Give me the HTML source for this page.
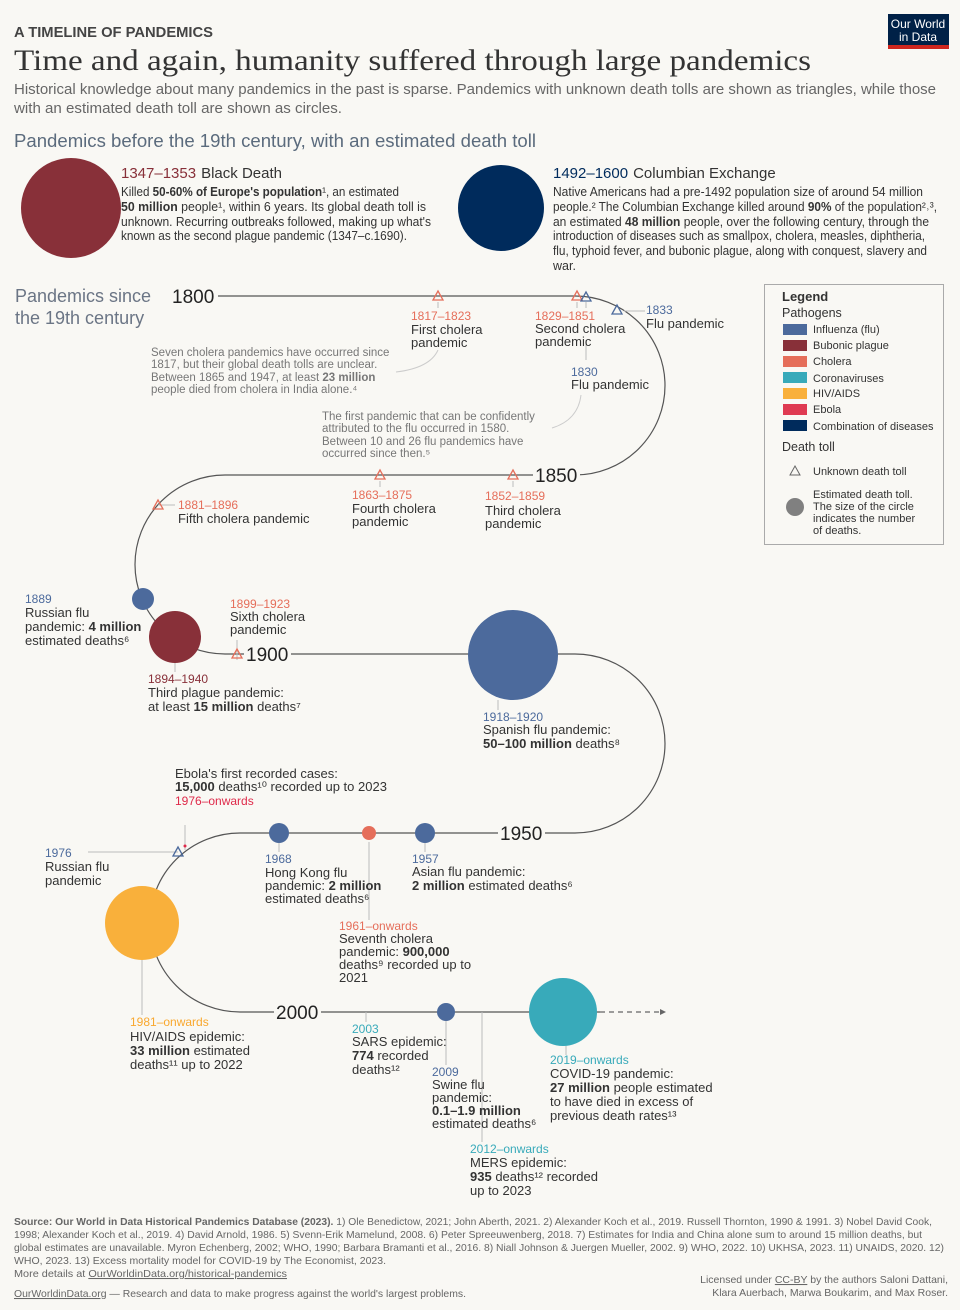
<!DOCTYPE html>
<html><head><meta charset="utf-8"><style>
body{margin:0;background:#f9f8f4}
svg{display:block}
text{font-family:"Liberation Sans",sans-serif}
.g{fill:#5b5b5b}.d{fill:#333}.b{font-weight:bold}
.fl{fill:#4c6a9c}.ch{fill:#e56e5a}.pl{fill:#883039}.co{fill:#38aaba}.hv{fill:#f9a82f}.eb{fill:#df2a4a}.cm{fill:#002b5c}
</style></head><body>
<svg width="960" height="1310" viewBox="0 0 960 1310" xmlns="http://www.w3.org/2000/svg">
<rect width="960" height="1310" fill="#f9f8f4"/>
<!-- header -->
<text x="14" y="37" font-size="15" font-weight="bold" fill="#444" textLength="199" lengthAdjust="spacingAndGlyphs">A TIMELINE OF PANDEMICS</text>
<text x="14" y="70" font-size="30" fill="#333" style="font-family:'Liberation Serif',serif" textLength="797" lengthAdjust="spacingAndGlyphs">Time and again, humanity suffered through large pandemics</text>
<text x="14" y="94" font-size="15" fill="#666" textLength="922" lengthAdjust="spacingAndGlyphs">Historical knowledge about many pandemics in the past is sparse. Pandemics with unknown death tolls are shown as triangles, while those</text>
<text x="14" y="113" font-size="15" fill="#666" textLength="328" lengthAdjust="spacingAndGlyphs">with an estimated death toll are shown as circles.</text>
<rect x="888" y="14" width="61" height="35" fill="#002147"/><rect x="888" y="45" width="61" height="4" fill="#ce261e"/>
<text x="918" y="28" font-size="12" fill="#fff" text-anchor="middle">Our World</text>
<text x="918" y="41" font-size="12" fill="#fff" text-anchor="middle">in Data</text>
<text x="14" y="147" font-size="18" fill="#5b6b7d" textLength="522" lengthAdjust="spacingAndGlyphs">Pandemics before the 19th century, with an estimated death toll</text>
<!-- black death -->
<circle cx="71" cy="208" r="50" fill="#883039"/>
<text x="121" y="178" font-size="15"><tspan class="pl">1347–1353</tspan><tspan class="d" dx="5">Black Death</tspan></text>
<g font-size="12.5" class="d">
<text x="121" y="196" textLength="278" lengthAdjust="spacingAndGlyphs">Killed <tspan class="b">50-60% of Europe's population</tspan>¹, an estimated</text>
<text x="121" y="211" textLength="305" lengthAdjust="spacingAndGlyphs"><tspan class="b">50 million</tspan> people¹, within 6 years. Its global death toll is</text>
<text x="121" y="226" textLength="310" lengthAdjust="spacingAndGlyphs">unknown. Recurring outbreaks followed, making up what's</text>
<text x="121" y="240" textLength="286" lengthAdjust="spacingAndGlyphs">known as the second plague pandemic (1347–c.1690).</text>
</g>
<circle cx="501" cy="208" r="43" fill="#002b5c"/>
<text x="553" y="178" font-size="15"><tspan class="cm">1492–1600</tspan><tspan class="d" dx="5">Columbian Exchange</tspan></text>
<g font-size="12.5" class="d">
<text x="553" y="196" textLength="370" lengthAdjust="spacingAndGlyphs">Native Americans had a pre-1492 population size of around 54 million</text>
<text x="553" y="211" textLength="384" lengthAdjust="spacingAndGlyphs">people.² The Columbian Exchange killed around <tspan class="b">90%</tspan> of the population²˒³,</text>
<text x="553" y="226" textLength="376" lengthAdjust="spacingAndGlyphs">an estimated <tspan class="b">48 million</tspan> people, over the following century, through the</text>
<text x="553" y="240" textLength="372" lengthAdjust="spacingAndGlyphs">introduction of diseases such as smallpox, cholera, measles, diphtheria,</text>
<text x="553" y="255" textLength="374" lengthAdjust="spacingAndGlyphs">flu, typhoid fever, and bubonic plague, along with conquest, slavery and</text>
<text x="553" y="270">war.</text>
</g>
<!-- timeline path -->
<path d="M218 296 H575 A90 89.5 0 0 1 575 475 H225 A90 89.5 0 0 0 225 654 H575 A90 89.5 0 0 1 575 833 H240 A90 89.5 0 0 0 240 1012 H600" fill="none" stroke="#555" stroke-width="1.2"/>
<path d="M600 1012 H660" stroke="#666" stroke-width="1.2" stroke-dasharray="5 4"/>
<path d="M660 1009 L666 1012 L660 1015Z" fill="#666"/>
<text x="15" y="302" font-size="18" fill="#6b7585">Pandemics since</text>
<text x="15" y="324" font-size="18" fill="#6b7585">the 19th century</text>
<!-- year labels -->
<g font-size="19" fill="#222">
<text x="172" y="303">1800</text>
<rect x="533" y="464" width="47" height="22" fill="#f9f8f4"/><text x="535" y="482">1850</text>
<rect x="244" y="643" width="47" height="22" fill="#f9f8f4"/><text x="246" y="661">1900</text>
<rect x="498" y="822" width="47" height="22" fill="#f9f8f4"/><text x="500" y="840">1950</text>
<rect x="274" y="1001" width="47" height="22" fill="#f9f8f4"/><text x="276" y="1019">2000</text>
</g>
<!-- connectors -->
<g stroke="#bbb" stroke-width="1" fill="none">
<path d="M438 302V308M577 302V308M586 302V308M624 311H645M158 505H175"/>
<path d="M586 340V360M380 481V487M513 481V487"/>
<path d="M143 610V598M175 662V672M237 660V640"/>
<path d="M498 700V710M279 842V852M369 842V920M425 842V852M185 825V850M178 852H88M142 955V1015M366 1012V1022M446 1020V1065M482 1012V1142M566 1046V1055"/>
<path d="M438 350 Q430 368 396 372M581 395 Q578 420 552 428" stroke="#ccc"/>
</g>
<!-- triangles -->
<g fill="none" stroke-width="1.3">
<path d="M438 291 L443 300 L433 300Z" stroke="#e56e5a"/>
<path d="M577 291 L582 300 L572 300Z" stroke="#e56e5a"/>
<path d="M586 292 L591 301 L581 301Z" stroke="#4c6a9c"/>
<path d="M617 305 L622 314 L612 314Z" stroke="#4c6a9c"/>
<path d="M380 470 L385 479 L375 479Z" stroke="#e56e5a"/>
<path d="M513 470 L518 479 L508 479Z" stroke="#e56e5a"/>
<path d="M158 500 L163 509 L153 509Z" stroke="#e56e5a"/>
<path d="M237 649 L242 658 L232 658Z" stroke="#e56e5a"/>
<path d="M178 847 L183 856 L173 856Z" stroke="#4c6a9c"/>
</g>
<!-- circles -->
<circle cx="143" cy="599" r="11" fill="#4c6a9c"/>
<circle cx="175" cy="637" r="26" fill="#883039"/>
<circle cx="513" cy="655" r="45" fill="#4c6a9c"/>
<circle cx="279" cy="833" r="10" fill="#4c6a9c"/>
<circle cx="369" cy="833" r="7" fill="#e56e5a"/>
<circle cx="425" cy="833" r="10" fill="#4c6a9c"/>
<circle cx="185" cy="846" r="1.5" fill="#df2a4a"/>
<circle cx="142" cy="923" r="37" fill="#f9b03b"/>
<circle cx="446" cy="1012" r="9" fill="#4c6a9c"/>
<circle cx="563" cy="1012" r="34" fill="#38aaba"/>
<!-- labels -->
<g font-size="13" class="d">
<text x="411" y="320" class="ch" font-size="12">1817–1823</text>
<text x="411" y="334">First cholera</text><text x="411" y="347">pandemic</text>
<text x="535" y="320" class="ch" font-size="12">1829–1851</text>
<text x="535" y="333">Second cholera</text><text x="535" y="346">pandemic</text>
<text x="646" y="314" class="fl" font-size="12">1833</text>
<text x="646" y="328">Flu pandemic</text>
<text x="571" y="376" class="fl" font-size="12">1830</text>
<text x="571" y="389">Flu pandemic</text>
<g font-size="11.5" fill="#777">
<text x="151" y="356">Seven cholera pandemics have occurred since</text>
<text x="151" y="368">1817, but their global death tolls are unclear.</text>
<text x="151" y="381">Between 1865 and 1947, at least <tspan font-weight="bold">23 million</tspan></text>
<text x="151" y="393">people died from cholera in India alone.⁴</text>
<text x="322" y="420">The first pandemic that can be confidently</text>
<text x="322" y="432">attributed to the flu occurred in 1580.</text>
<text x="322" y="445">Between 10 and 26 flu pandemics have</text>
<text x="322" y="457">occurred since then.⁵</text>
</g>
<text x="352" y="499" class="ch" font-size="12">1863–1875</text>
<text x="352" y="513">Fourth cholera</text><text x="352" y="526">pandemic</text>
<text x="485" y="500" class="ch" font-size="12">1852–1859</text>
<text x="485" y="515">Third cholera</text><text x="485" y="528">pandemic</text>
<text x="178" y="509" class="ch" font-size="12">1881–1896</text>
<text x="178" y="523">Fifth cholera pandemic</text>
<text x="25" y="603" class="fl" font-size="12">1889</text>
<text x="25" y="617">Russian flu</text>
<text x="25" y="631">pandemic: <tspan class="b">4 million</tspan></text>
<text x="25" y="645">estimated deaths⁶</text>
<text x="230" y="608" class="ch" font-size="12">1899–1923</text>
<text x="230" y="621">Sixth cholera</text><text x="230" y="634">pandemic</text>
<text x="148" y="683" class="pl" font-size="12">1894–1940</text>
<text x="148" y="697">Third plague pandemic:</text>
<text x="148" y="711">at least <tspan class="b">15 million</tspan> deaths⁷</text>
<text x="483" y="721" class="fl" font-size="12">1918–1920</text>
<text x="483" y="734">Spanish flu pandemic:</text>
<text x="483" y="748"><tspan class="b">50–100 million</tspan> deaths⁸</text>
<text x="175" y="778">Ebola's first recorded cases:</text>
<text x="175" y="791"><tspan class="b">15,000</tspan> deaths¹⁰ recorded up to 2023</text>
<text x="175" y="805" class="eb" font-size="12">1976–onwards</text>
<text x="45" y="857" class="fl" font-size="12">1976</text>
<text x="45" y="871">Russian flu</text><text x="45" y="885">pandemic</text>
<text x="265" y="863" class="fl" font-size="12">1968</text>
<text x="265" y="877">Hong Kong flu</text>
<text x="265" y="890">pandemic: <tspan class="b">2 million</tspan></text>
<text x="265" y="903">estimated deaths⁶</text>
<text x="412" y="863" class="fl" font-size="12">1957</text>
<text x="412" y="876">Asian flu pandemic:</text>
<text x="412" y="890"><tspan class="b">2 million</tspan> estimated deaths⁶</text>
<text x="339" y="930" class="ch" font-size="12">1961–onwards</text>
<text x="339" y="943">Seventh cholera</text>
<text x="339" y="956">pandemic: <tspan class="b">900,000</tspan></text>
<text x="339" y="969">deaths⁹ recorded up to</text>
<text x="339" y="982">2021</text>
<text x="130" y="1026" class="hv" font-size="12">1981–onwards</text>
<text x="130" y="1041">HIV/AIDS epidemic:</text>
<text x="130" y="1055"><tspan class="b">33 million</tspan> estimated</text>
<text x="130" y="1069">deaths¹¹ up to 2022</text>
<text x="352" y="1033" class="co" font-size="12">2003</text>
<text x="352" y="1046">SARS epidemic:</text>
<text x="352" y="1060"><tspan class="b">774</tspan> recorded</text>
<text x="352" y="1074">deaths¹²</text>
<text x="432" y="1076" class="fl" font-size="12">2009</text>
<text x="432" y="1089">Swine flu</text>
<text x="432" y="1102">pandemic:</text>
<text x="432" y="1115" class="b">0.1–1.9 million</text>
<text x="432" y="1128">estimated deaths⁶</text>
<text x="550" y="1064" class="co" font-size="12">2019–onwards</text>
<text x="550" y="1078">COVID-19 pandemic:</text>
<text x="550" y="1092"><tspan class="b">27 million</tspan> people estimated</text>
<text x="550" y="1106">to have died in excess of</text>
<text x="550" y="1120">previous death rates¹³</text>
<text x="470" y="1153" class="co" font-size="12">2012–onwards</text>
<text x="470" y="1167">MERS epidemic:</text>
<text x="470" y="1181"><tspan class="b">935</tspan> deaths¹² recorded</text>
<text x="470" y="1195">up to 2023</text>
</g>
<!-- legend -->
<rect x="764.5" y="284.5" width="179" height="260" fill="#f9f8f4" stroke="#aaa"/>
<g font-size="11" fill="#333">
<text x="782" y="301" font-size="13" font-weight="bold">Legend</text>
<text x="782" y="317" font-size="12.5">Pathogens</text>
<rect x="783" y="324" width="24" height="11" fill="#4c6a9c"/><text x="813" y="333">Influenza (flu)</text>
<rect x="783" y="340" width="24" height="11" fill="#883039"/><text x="813" y="349">Bubonic plague</text>
<rect x="783" y="356" width="24" height="11" fill="#e56e5a"/><text x="813" y="365">Cholera</text>
<rect x="783" y="372" width="24" height="11" fill="#38aaba"/><text x="813" y="382">Coronaviruses</text>
<rect x="783" y="388" width="24" height="11" fill="#f9b03b"/><text x="813" y="397">HIV/AIDS</text>
<rect x="783" y="404" width="24" height="11" fill="#df3a52"/><text x="813" y="413">Ebola</text>
<rect x="783" y="420" width="24" height="11" fill="#002b5c"/><text x="813" y="430">Combination of diseases</text>
<text x="782" y="451" font-size="12.5">Death toll</text>
<path d="M795 466 L800 475 L790 475Z" fill="none" stroke="#666"/>
<text x="813" y="475">Unknown death toll</text>
<circle cx="795" cy="507" r="9" fill="#808080"/>
<text x="813" y="498">Estimated death toll.</text>
<text x="813" y="510">The size of the circle</text>
<text x="813" y="522">indicates the number</text>
<text x="813" y="534">of deaths.</text>
</g>
<!-- footer -->
<g font-size="10.5" fill="#666">
<text x="14" y="1225" textLength="918" lengthAdjust="spacingAndGlyphs"><tspan font-weight="bold">Source: Our World in Data Historical Pandemics Database (2023).</tspan> 1) Ole Benedictow, 2021; John Aberth, 2021. 2) Alexander Koch et al., 2019. Russell Thornton, 1990 &amp; 1991. 3) Nobel David Cook,</text>
<text x="14" y="1238" textLength="908" lengthAdjust="spacingAndGlyphs">1998; Alexander Koch et al., 2019. 4) David Arnold, 1986. 5) Svenn-Erik Mamelund, 2008. 6) Peter Spreeuwenberg, 2018. 7) Estimates for India and China alone sum to around 15 million deaths, but</text>
<text x="14" y="1251" textLength="930" lengthAdjust="spacingAndGlyphs">global estimates are unavailable. Myron Echenberg, 2002; WHO, 1990; Barbara Bramanti et al., 2016. 8) Niall Johnson &amp; Juergen Mueller, 2002. 9) WHO, 2022. 10) UKHSA, 2023. 11) UNAIDS, 2020. 12)</text>
<text x="14" y="1264" textLength="372" lengthAdjust="spacingAndGlyphs">WHO, 2023. 13) Excess mortality model for COVID-19 by The Economist, 2023.</text>
<text x="14" y="1277" textLength="273" lengthAdjust="spacingAndGlyphs">More details at <tspan text-decoration="underline">OurWorldinData.org/historical-pandemics</tspan></text>
<text x="14" y="1297" textLength="452" lengthAdjust="spacingAndGlyphs"><tspan text-decoration="underline">OurWorldinData.org</tspan> — Research and data to make progress against the world's largest problems.</text>
<text x="948" y="1283" text-anchor="end">Licensed under <tspan text-decoration="underline">CC-BY</tspan> by the authors Saloni Dattani,</text>
<text x="948" y="1296" text-anchor="end">Klara Auerbach, Marwa Boukarim, and Max Roser.</text>
</g>
</svg>
</body></html>
